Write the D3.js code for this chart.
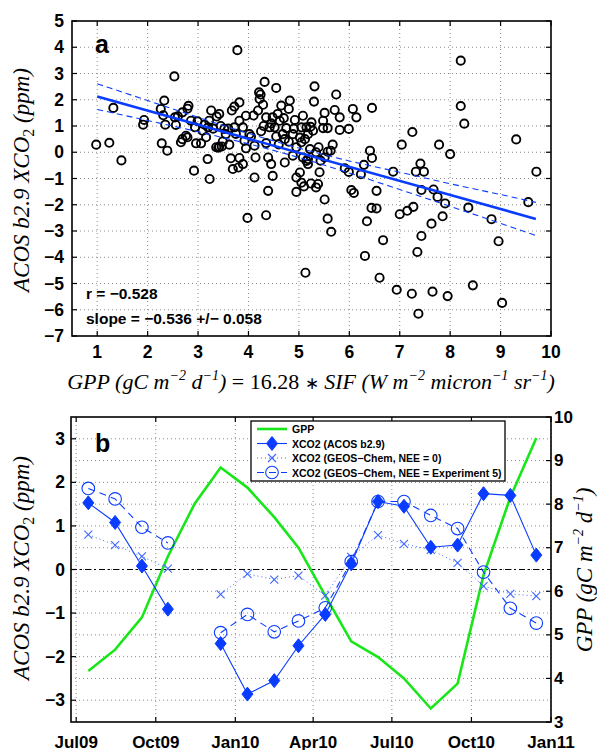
<!DOCTYPE html>
<html>
<head>
<meta charset="utf-8">
<script src="https://cdnjs.cloudflare.com/ajax/libs/d3/7.8.5/d3.min.js"></script>
<style>
body { margin: 0; background: #fff; }
svg text { font-family: Arial, "Liberation Sans", Helvetica, sans-serif; }
.ttl { font-family: "Liberation Serif", "Times New Roman", serif !important; font-style: italic; }
</style>
</head>
<body>
<script>
// ---- panel a : scatter of ACOS XCO2 anomaly vs GPP from SIF ----
var sifX = [0.98,1.24,1.48,1.32,1.91,1.93,2.53,2.33,2.26,2.35,2.31,2.28,2.39,2.54,2.60,2.69,2.81,2.79,2.56,2.66,
  2.69,2.79,2.76,2.86,2.99,2.94,2.92,2.96,3.06,3.09,3.16,3.19,3.22,3.26,3.23,3.36,3.42,3.37,3.42,3.52,
  3.55,3.49,3.62,3.67,3.72,3.82,3.78,3.65,3.82,3.89,3.80,3.69,3.72,3.82,3.89,3.95,3.92,4.02,4.12,4.14,
  4.12,4.19,4.22,4.21,4.24,4.29,4.32,4.35,4.42,4.48,4.55,4.52,4.58,4.62,4.65,4.68,4.72,4.75,4.82,4.80,
  4.88,4.92,4.95,5.05,5.08,5.15,5.18,5.23,4.88,4.72,4.48,4.39,4.45,4.95,5.02,5.08,5.18,5.22,3.98,4.35,
  4.39,4.95,5.05,5.10,5.13,5.24,5.38,5.34,5.51,5.57,5.64,6.04,6.09,6.54,6.44,6.54,6.35,6.67,6.31,6.60,
  7.00,7.15,7.27,7.43,7.67,7.75,7.90,7.85,7.63,7.43,7.35,6.94,7.24,7.65,7.95,7.37,8.36,8.82,8.96,8.45,
  9.03,9.55,5.31,5.30,5.25,5.28,5.51,5.48,5.48,5.57,5.74,5.71,5.81,5.81,5.99,6.07,6.14,6.45,5.39,5.34,
  5.51,5.57,5.63,5.67,5.43,5.41,5.91,5.99,6.23,6.29,6.41,6.45,6.87,7.04,7.25,7.32,7.41,7.48,7.78,8.00,
  8.21,8.21,8.28,9.31,9.71,5.12,5.02,5.05,5.15,5.18,3.40,3.47,4.05,4.25,4.30,4.60,4.55,4.80,4.35,3.75,
  3.60,4.45,4.90,3.30,3.45,3.95,4.10,4.70,3.20,3.13];
var xco2Y = [0.29,0.36,-0.31,1.69,1.05,1.23,2.89,1.97,1.65,1.05,1.41,0.34,0.06,1.33,1.37,1.52,1.77,1.66,1.04,0.38,
  0.50,0.57,0.63,1.20,1.18,0.95,-0.70,0.34,0.34,0.82,0.57,-0.26,1.20,1.59,-1.02,0.19,0.21,1.36,1.46,0.89,
  0.69,0.41,0.29,1.59,1.74,1.90,3.89,-0.23,-0.22,-0.45,-0.58,-0.64,0.95,1.20,0.95,1.39,0.44,0.69,0.25,-0.20,
  -0.96,1.59,2.03,2.28,2.20,1.81,2.68,1.33,0.95,1.33,2.45,0.95,1.46,1.20,1.78,0.69,0.50,0.92,1.97,1.65,
  0.69,1.23,0.19,0.38,1.39,0.95,0.69,0.97,-0.13,-0.39,-0.90,-0.20,-0.45,-0.96,-0.77,-0.20,-0.26,0.12,-2.50,-2.40,
  -1.47,-1.51,-1.16,-1.30,-4.59,-1.19,-1.21,-1.34,-1.80,-2.53,-3.03,-1.44,-1.55,-1.47,-2.12,-2.14,-2.63,-3.35,-3.95,-4.78,
  -2.36,-2.23,-2.08,-1.44,-1.42,-1.70,-1.95,-2.44,-2.72,-3.19,-3.80,-5.24,-5.39,-5.31,-5.48,-6.15,-2.11,-2.55,-3.39,-5.07,
  -5.74,-1.90,2.51,1.93,1.14,0.82,1.50,1.20,0.92,0.92,2.20,1.61,1.33,0.85,0.89,1.65,1.33,1.69,0.19,0.00,
  -0.20,0.02,0.06,0.29,-0.32,-0.76,-0.61,-0.75,-0.84,-0.48,0.06,-0.22,-0.74,0.29,0.77,-0.74,-0.43,-0.74,0.29,-0.07,
  3.49,1.76,1.09,0.49,-0.74,0.50,0.56,0.95,-0.33,-0.45,0.17,0.22,0.60,0.80,1.00,0.30,0.60,0.40,0.35,0.70,
  0.90,1.10,0.90,0.90,1.00,0.15,1.40,1.30,0.95,1.05];

// least squares fit shown on the plot and its confidence band
var fitSlope = -0.536, fitIntercept = 2.66, fitRange = [1, 9.7];
var bandX     = [1, 2, 3, 4, 5, 6, 7, 8, 9, 9.7];
var bandUpper = [2.61, 1.97, 1.33, 0.72, 0.16, -0.33, -0.76, -1.20, -1.61, -1.91];
var bandLower = [1.63, 1.21, 0.78, 0.32, -0.20, -0.79, -1.42, -2.06, -2.71, -3.17];

// ---- panel b : monthly time series ----
var months = ["2009-07-15","2009-08-15","2009-09-15","2009-10-15","2009-11-15","2009-12-15",
  "2010-01-15","2010-02-15","2010-03-15","2010-04-15","2010-05-15","2010-06-15",
  "2010-07-15","2010-08-15","2010-09-15","2010-10-15","2010-11-15","2010-12-15"];
var gpp   = [4.17, 4.66, 5.40, 6.80, 8.01, 8.84, 8.38, 7.70, 7.00, 5.90, 4.85, 4.49, 4.00, 3.31, 3.88, 6.37, 8.16, 9.52];
var acos  = [1.53, 1.08, 0.08, -0.91, null, -1.70, -2.86, -2.55, -1.75, -1.03, 0.13, 1.56, 1.45, 0.51, 0.56, 1.74, 1.70, 0.33];
var nee0  = [0.80, 0.56, 0.30, 0.02, null, -0.57, -0.10, -0.23, -0.14, -0.60, 0.29, 0.79, 0.59, 0.45, 0.15, -0.38, -0.56, -0.61];
var exp5  = [1.86, 1.62, 0.97, 0.61, null, -1.45, -1.03, -1.43, -1.18, -0.88, 0.18, 1.56, 1.56, 1.24, 0.94, -0.06, -0.89, -1.23];
var legendNames = ["GPP", "XCO2 (ACOS b2.9)", "XCO2 (GEOS\u2212Chem, NEE = 0)", "XCO2 (GEOS\u2212Chem, NEE = Experiment 5)"];

var blue = "#0a3cff", blueLight = "#3d66ff", green = "#19e619";

var svg = d3.select("body").append("svg")
    .attr("width", 597)
    .attr("height", 750);

var parseDay = d3.timeParse("%Y-%m-%d");
var dates = months.map(parseDay);

// dotted grid lines inside a panel
function frame(g, x, y, xt, yt, box) {
    var grid = g.append("g").attr("stroke", "#8c8c8c").attr("stroke-width", 1).attr("stroke-dasharray", "1,3");
    xt.forEach(function (t) {
        grid.append("line").attr("x1", x(t)).attr("x2", x(t)).attr("y1", box.t).attr("y2", box.b);
    });
    yt.forEach(function (t) {
        grid.append("line").attr("x1", box.l).attr("x2", box.r).attr("y1", y(t)).attr("y2", y(t));
    });
}

// inward ticks on the sides and the black frame
function ticksOnFrame(g, x, y, xt, yt, box, rightTicks) {
    var tk = g.append("g").attr("stroke", "#000").attr("stroke-width", 1.2);
    xt.forEach(function (t) {
        tk.append("line").attr("x1", x(t)).attr("x2", x(t)).attr("y1", box.b).attr("y2", box.b - 5);
        tk.append("line").attr("x1", x(t)).attr("x2", x(t)).attr("y1", box.t).attr("y2", box.t + 5);
    });
    yt.forEach(function (t) {
        tk.append("line").attr("x1", box.l).attr("x2", box.l + 5).attr("y1", y(t)).attr("y2", y(t));
        if (rightTicks) tk.append("line").attr("x1", box.r).attr("x2", box.r - 5).attr("y1", y(t)).attr("y2", y(t));
    });
    g.append("rect").attr("x", box.l).attr("y", box.t).attr("width", box.r - box.l).attr("height", box.b - box.t)
        .attr("fill", "none").attr("stroke", "#000").attr("stroke-width", 1.6);
}

// ================= panel a =================
var boxA = {l: 72, r: 551, t: 21, b: 336};
var xA = d3.scaleLinear().domain([0.5, 10]).range([boxA.l, boxA.r]);
var yA = d3.scaleLinear().domain([-7, 5]).range([boxA.b, boxA.t]);
var xTicksA = d3.range(1, 11), yTicksA = d3.range(-7, 6);

var gA = svg.append("g");
frame(gA, xA, yA, xTicksA.filter(function (t) { return t < 10; }), yTicksA.filter(function (t) { return t > -7 && t < 5; }), boxA);

gA.append("g").selectAll("circle")
    .data(d3.range(sifX.length))
    .enter().append("circle")
    .attr("cx", function (i) { return xA(sifX[i]); })
    .attr("cy", function (i) { return yA(xco2Y[i]); })
    .attr("r", 4.1)
    .attr("fill", "none")
    .attr("stroke", "#000")
    .attr("stroke-width", 1.9);

var fitLine = d3.line().x(function (d) { return xA(d); }).y(function (d) { return yA(fitIntercept + fitSlope * d); });
gA.append("path").attr("d", fitLine(fitRange)).attr("fill", "none").attr("stroke", blue).attr("stroke-width", 2.6);

var bandLine = d3.line().curve(d3.curveMonotoneX)
    .x(function (d) { return xA(d[0]); }).y(function (d) { return yA(d[1]); });
[bandUpper, bandLower].forEach(function (b) {
    gA.append("path").attr("d", bandLine(bandX.map(function (v, i) { return [v, b[i]]; })))
        .attr("fill", "none").attr("stroke", blue).attr("stroke-width", 1.1).attr("stroke-dasharray", "6,4");
});

ticksOnFrame(gA, xA, yA, xTicksA, yTicksA, boxA, true);

gA.append("g").selectAll("text").data(yTicksA).enter().append("text")
    .attr("x", 64).attr("y", function (d) { return yA(d) + 6; })
    .attr("text-anchor", "end").attr("font-size", 17.5).attr("font-weight", "bold")
    .text(function (d) { return d < 0 ? "\u2212" + (-d) : d; });
gA.append("g").selectAll("text").data(xTicksA).enter().append("text")
    .attr("x", function (d) { return xA(d); }).attr("y", 358)
    .attr("text-anchor", "middle").attr("font-size", 17.5).attr("font-weight", "bold")
    .text(function (d) { return d; });

gA.append("text").attr("x", 95).attr("y", 53).attr("font-size", 25).attr("font-weight", "bold").text("a");
gA.append("text").attr("x", 86).attr("y", 299).attr("font-size", 15.5).attr("font-weight", "bold").text("r = \u22120.528");
gA.append("text").attr("x", 86).attr("y", 324).attr("font-size", 15.5).attr("font-weight", "bold").text("slope = \u22120.536 +/\u2212 0.058");

// axis titles
function xco2Title(g, cx, cy) {
    var t = g.append("text").attr("class", "ttl").attr("font-size", 23)
        .attr("text-anchor", "middle")
        .attr("transform", "translate(" + cx + "," + cy + ") rotate(-90)");
    t.append("tspan").text("ACOS b2.9 XCO");
    t.append("tspan").attr("font-size", 16).attr("dy", 5).attr("font-style", "normal").text("2");
    t.append("tspan").attr("dy", -5).text(" (ppm)");
}
xco2Title(gA, 29, 180);

function sup(t, s) {
    t.append("tspan").attr("font-size", 14).attr("dy", -9).text(s);
    return t;
}
var xt = gA.append("text").attr("class", "ttl").attr("font-size", 22).attr("text-anchor", "middle")
    .attr("x", 311).attr("y", 389);
xt.append("tspan").text("GPP (gC m");
sup(xt, "\u22122");
xt.append("tspan").attr("dy", 9).text(" d");
sup(xt, "\u22121");
xt.append("tspan").attr("dy", 9).text(")");
xt.append("tspan").attr("font-style", "normal").text(" = 16.28 ");
xt.append("tspan").attr("font-style", "normal").attr("font-size", 17).text("\u2217");
xt.append("tspan").text(" SIF (W m");
sup(xt, "\u22122");
xt.append("tspan").attr("dy", 9).text(" micron");
sup(xt, "\u22121");
xt.append("tspan").attr("dy", 9).text(" sr");
sup(xt, "\u22121");
xt.append("tspan").attr("dy", 9).text(")");

// ================= panel b =================
var boxB = {l: 71, r: 551, t: 417, b: 722};
var xB = d3.scaleTime().domain([new Date(2009, 5, 25), new Date(2011, 0, 1)]).range([boxB.l, boxB.r]);
var yB = d3.scaleLinear().domain([-3.5, 3.5]).range([boxB.b, boxB.t]);
var yG = d3.scaleLinear().domain([3, 10]).range([boxB.b, boxB.t]);
var xTicksB = xB.ticks(d3.timeMonth.every(3));
var yTicksB = [-3, -2, -1, 0, 1, 2, 3];
var gTicks = d3.range(3, 11);

var gB = svg.append("g");
frame(gB, xB, yB, xTicksB, yTicksB, boxB);
// GPP grid on the right axis
gTicks.filter(function (t) { return t > 3 && t < 10; }).forEach(function (t) {
    gB.append("line").attr("x1", boxB.l).attr("x2", boxB.r).attr("y1", yG(t)).attr("y2", yG(t))
        .attr("stroke", "#8c8c8c").attr("stroke-dasharray", "1,3");
});

// zero line
gB.append("line").attr("x1", boxB.l).attr("x2", boxB.r).attr("y1", yB(0)).attr("y2", yB(0))
    .attr("stroke", "#000").attr("stroke-width", 1.1).attr("stroke-dasharray", "6,3,2,3");

var lineB = function (vals, sc) {
    return d3.line().defined(function (d, i) { return vals[i] !== null; })
        .x(function (d, i) { return xB(dates[i]); })
        .y(function (d) { return sc(d); })(vals);
};

gB.append("path").attr("d", lineB(gpp, yG)).attr("fill", "none").attr("stroke", green).attr("stroke-width", 2.6);
gB.append("path").attr("d", lineB(nee0, yB)).attr("fill", "none").attr("stroke", blueLight).attr("stroke-width", 1).attr("stroke-dasharray", "1,3");
gB.append("path").attr("d", lineB(exp5, yB)).attr("fill", "none").attr("stroke", blue).attr("stroke-width", 1.1).attr("stroke-dasharray", "7,5");
gB.append("path").attr("d", lineB(acos, yB)).attr("fill", "none").attr("stroke", blue).attr("stroke-width", 1.1);

function diamond(g, cx, cy) {
    g.append("path").attr("d", "M" + cx + "," + (cy - 7) + "L" + (cx + 5.5) + "," + cy + "L" + cx + "," + (cy + 7) + "L" + (cx - 5.5) + "," + cy + "Z")
        .attr("fill", blue).attr("stroke", blue).attr("stroke-width", 1);
}
function cross(g, cx, cy) {
    g.append("path").attr("d", "M" + (cx - 4) + "," + (cy - 4) + "L" + (cx + 4) + "," + (cy + 4) + "M" + (cx - 4) + "," + (cy + 4) + "L" + (cx + 4) + "," + (cy - 4))
        .attr("stroke", blueLight).attr("stroke-width", 1.1);
}
function ring(g, cx, cy) {
    g.append("circle").attr("cx", cx).attr("cy", cy).attr("r", 6.3).attr("fill", "none").attr("stroke", blue).attr("stroke-width", 1.1);
}
var mk = gB.append("g");
dates.forEach(function (d, i) {
    if (nee0[i] !== null) cross(mk, xB(d), yB(nee0[i]));
    if (exp5[i] !== null) ring(mk, xB(d), yB(exp5[i]));
    if (acos[i] !== null) diamond(mk, xB(d), yB(acos[i]));
});

ticksOnFrame(gB, xB, yB, xTicksB, yTicksB, boxB, false);
var rt = gB.append("g").attr("stroke", "#000").attr("stroke-width", 1.2);
gTicks.forEach(function (t) {
    rt.append("line").attr("x1", boxB.r).attr("x2", boxB.r - 5).attr("y1", yG(t)).attr("y2", yG(t));
});

gB.append("g").selectAll("text").data(yTicksB).enter().append("text")
    .attr("x", 65).attr("y", function (d) { return yB(d) + 6; })
    .attr("text-anchor", "end").attr("font-size", 17.5).attr("font-weight", "bold")
    .text(function (d) { return d < 0 ? "\u2212" + (-d) : d; });
gB.append("g").selectAll("text").data(gTicks).enter().append("text")
    .attr("x", 554).attr("y", function (d) { return yG(d) + 5.5; })
    .attr("font-size", 17).attr("font-weight", "bold")
    .text(function (d) { return d; });
gB.append("g").selectAll("text").data(xTicksB).enter().append("text")
    .attr("x", function (d) { return xB(d); }).attr("y", 747.5)
    .attr("text-anchor", "middle").attr("font-size", 17).attr("font-weight", "bold")
    .text(d3.timeFormat("%b%y"));

gB.append("text").attr("x", 95).attr("y", 452).attr("font-size", 25).attr("font-weight", "bold").text("b");

xco2Title(gB, 29, 568);
var gt = gB.append("text").attr("class", "ttl").attr("font-size", 23).attr("text-anchor", "middle")
    .attr("transform", "translate(592,570) rotate(-90)");
gt.append("tspan").text("GPP (gC m");
sup(gt, "\u22122");
gt.append("tspan").attr("dy", 9).text(" d");
sup(gt, "\u22121");
gt.append("tspan").attr("dy", 9).text(")");

// legend
var lg = gB.append("g");
lg.append("rect").attr("x", 251).attr("y", 421).attr("width", 254).attr("height", 60)
    .attr("fill", "#fff").attr("stroke", "#000").attr("stroke-width", 1.3);
var rowY = [429, 443.5, 458, 472.5];
legendNames.forEach(function (name, i) {
    var y = rowY[i];
    var ln = lg.append("line").attr("x1", 257).attr("x2", 287).attr("y1", y).attr("y2", y);
    if (i === 0) ln.attr("stroke", green).attr("stroke-width", 2.6);
    if (i === 1) { ln.attr("stroke", blue).attr("stroke-width", 1.1); diamond(lg, 272, y); }
    if (i === 2) { ln.attr("stroke", blueLight).attr("stroke-dasharray", "1,3"); cross(lg, 272, y); }
    if (i === 3) { ln.attr("stroke", blue).attr("stroke-dasharray", "7,5"); ring(lg, 272, y); }
    lg.append("text").attr("x", 292).attr("y", y + 4).attr("font-size", 10.5).attr("font-weight", "bold").text(name);
});
</script>
</body>
</html>
